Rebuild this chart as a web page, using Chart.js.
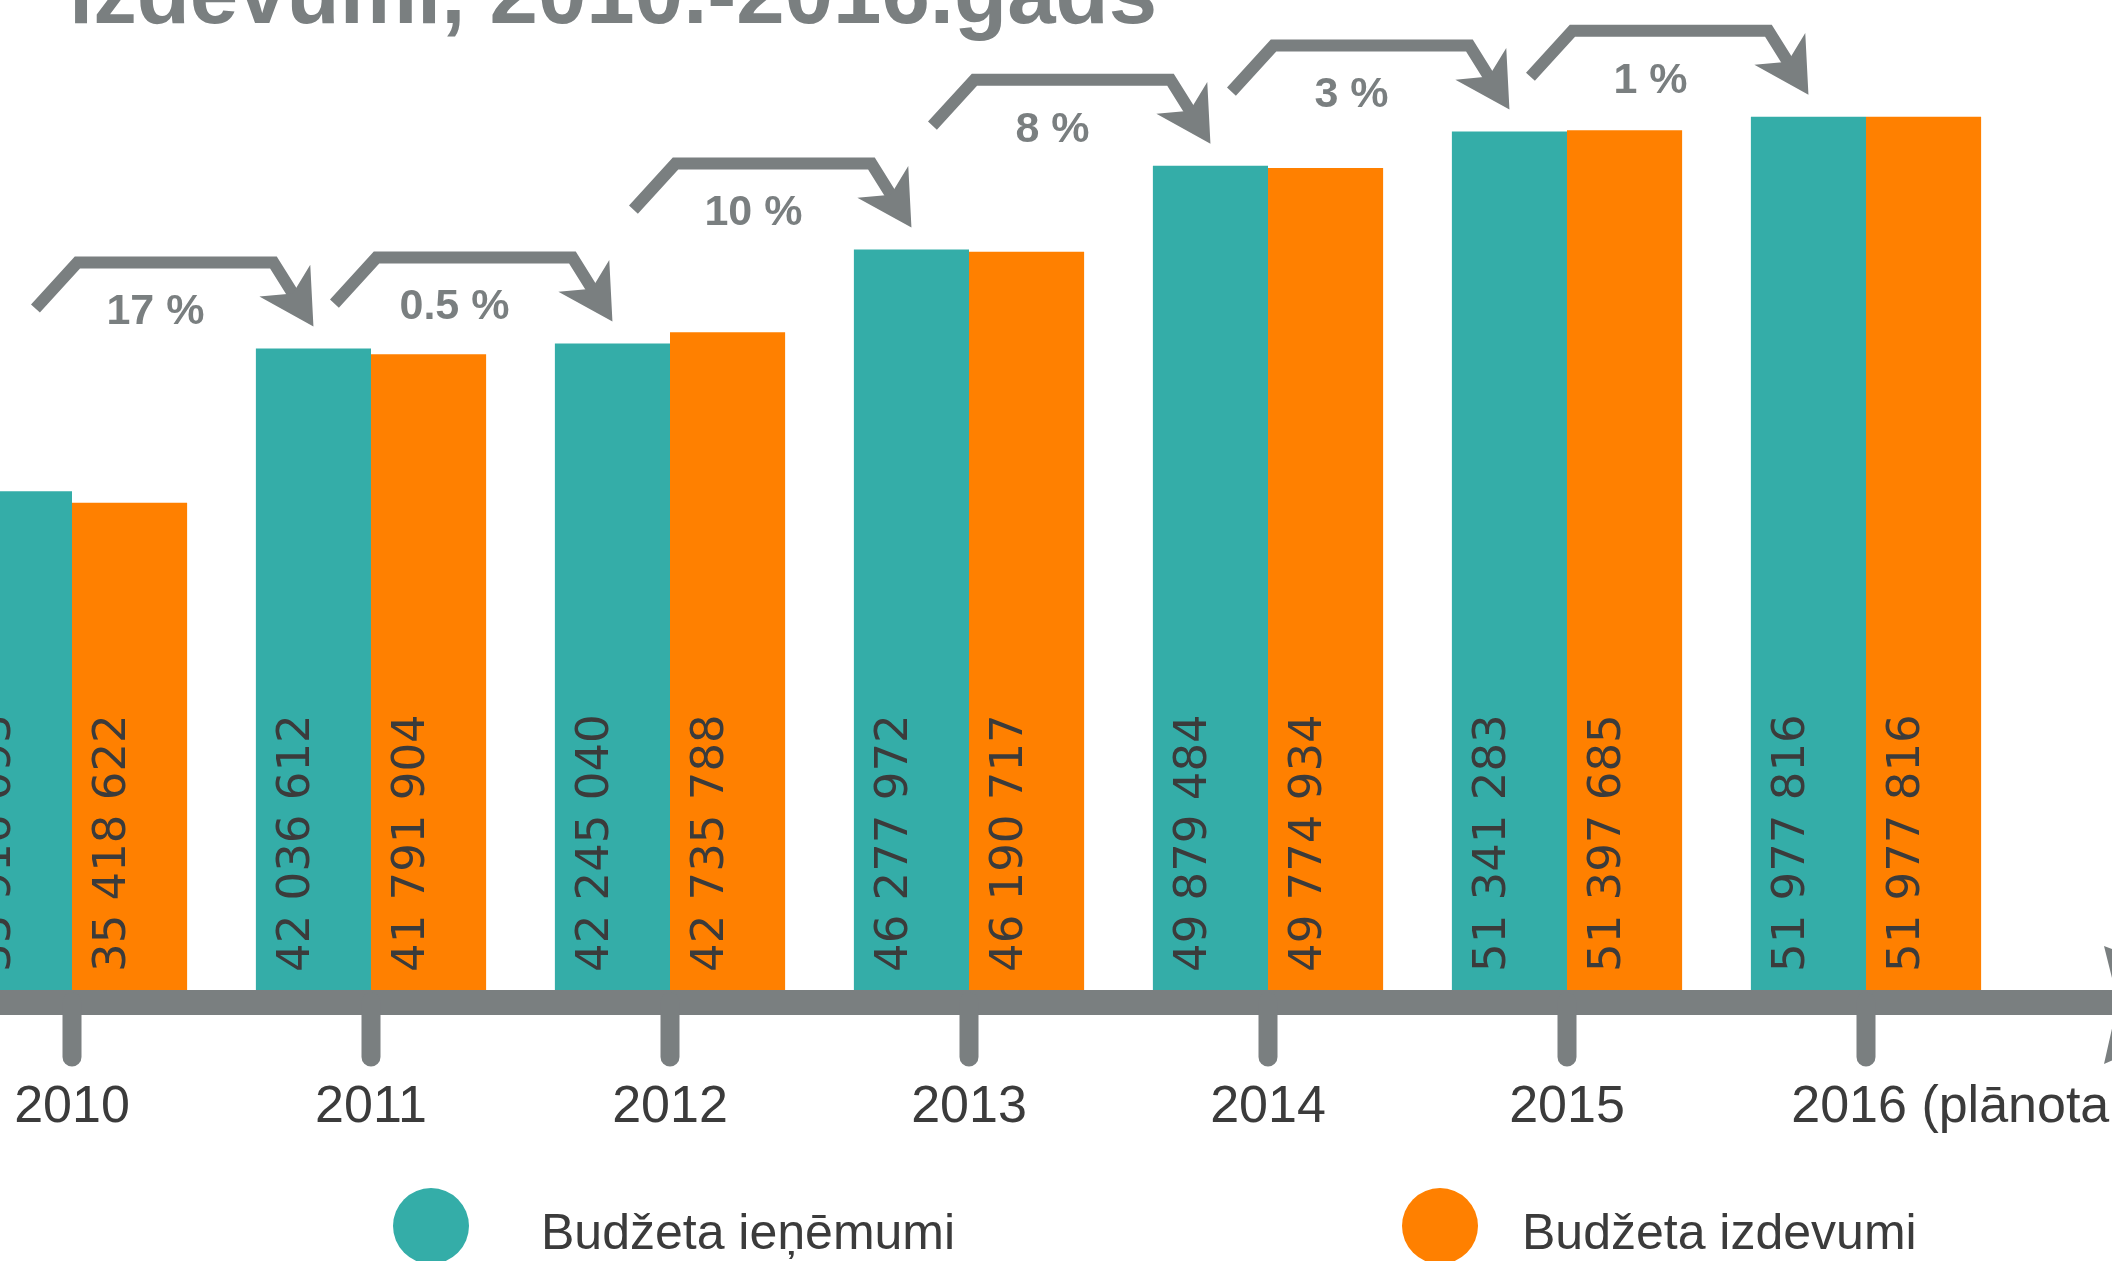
<!DOCTYPE html>
<html>
<head>
<meta charset="utf-8">
<script src="https://cdn.jsdelivr.net/npm/chart.js@4.4.1/dist/chart.umd.min.js"></script>
<style>
  html, body { margin: 0; padding: 0; background: #fff; overflow: hidden; }
  #wrap { width: 2112px; height: 1261px; position: relative; }
</style>
</head>
<body>
<div id="wrap"><canvas id="budzets"></canvas></div>
<script>
const gadi = ["2010", "2011", "2012", "2013", "2014", "2015", "2016 (plānotais)"];
const ienemumi = [35916093, 42036612, 42245040, 46277972, 49879484, 51341283, 51977816];
const izdevumi = [35418622, 41791904, 42735788, 46190717, 49774934, 51397685, 51977816];
const pieaugums = ["17 %", "0.5 %", "10 %", "8 %", "3 %", "1 %"];
const virsraksts = "izdevumi, 2010.-2016.gads";
const legendasX = [431, 1440];

const yMin = 14000000;
const yMax = 56000000;

const pelekais = "#7a7f80";
const teksts = "#3b3b3b";

function fmt(v) {
  return String(v).replace(/\B(?=(\d{3})+(?!\d))/g, " ");
}

const zimejumi = {
  id: "zimejumi",
  beforeDraw(chart) {
    const ctx = chart.ctx;
    ctx.save();
    ctx.fillStyle = pelekais;
    ctx.font = "bold 87px 'Liberation Sans'";
    ctx.textAlign = "left";
    ctx.textBaseline = "alphabetic";
    ctx.fillText(virsraksts, 69, 23);
    ctx.restore();
  },
  afterDatasetsDraw(chart) {
    const ctx = chart.ctx;
    const xs = chart.scales.x, ys = chart.scales.y;
    const y0 = ys.getPixelForValue(ys.min);
    const solis = xs.getPixelForValue(1) - xs.getPixelForValue(0);

    // skaitli stabinos
    ctx.save();
    ctx.font = "45px 'DejaVu Sans'";
    ctx.fillStyle = teksts;
    ctx.textAlign = "left";
    ctx.textBaseline = "middle";
    chart.data.datasets.forEach((ds, di) => {
      chart.getDatasetMeta(di).data.forEach((bar, i) => {
        ctx.save();
        ctx.translate(bar.x - 16, y0 - 30);
        ctx.rotate(-Math.PI / 2);
        ctx.fillText(fmt(ds.data[i]), 0, 0);
        ctx.restore();
      });
    });
    ctx.restore();

    // ass
    ctx.save();
    ctx.fillStyle = pelekais;
    ctx.fillRect(0, y0 - 12, chart.width, 25);
    ctx.beginPath();
    ctx.moveTo(2104, y0 - 56);
    ctx.lineTo(2250, y0);
    ctx.lineTo(2104, y0 + 62);
    ctx.lineTo(2118, y0);
    ctx.closePath();
    ctx.fill();

    ctx.strokeStyle = pelekais;
    ctx.lineWidth = 19;
    ctx.lineCap = "round";
    gadi.forEach((g, i) => {
      const px = xs.getPixelForValue(i);
      ctx.beginPath();
      ctx.moveTo(px, y0);
      ctx.lineTo(px, y0 + 55);
      ctx.stroke();
    });

    ctx.fillStyle = teksts;
    ctx.font = "52px 'Liberation Sans'";
    ctx.textBaseline = "alphabetic";
    gadi.forEach((g, i) => {
      const px = xs.getPixelForValue(i);
      if (ctx.measureText(g).width > solis * 0.9) {
        ctx.textAlign = "left";
        ctx.fillText(g, px - solis * 0.25, 1122);
      } else {
        ctx.textAlign = "center";
        ctx.fillText(g, px, 1122);
      }
    });
    ctx.restore();

    // pieauguma bultas
    const meta = chart.getDatasetMeta(0);
    ctx.save();
    ctx.strokeStyle = pelekais;
    ctx.fillStyle = pelekais;
    ctx.lineWidth = 12;
    ctx.lineJoin = "miter";
    pieaugums.forEach((p, k) => {
      const bar = meta.data[k + 1];
      const tx = bar.x, ty = bar.y - 22;
      const hx = tx - 40, hy = ty - 64;
      const cx = tx - 236, cy = hy;
      const sx = cx - 42, sy = cy + 46;
      const dl = Math.hypot(tx - hx, ty - hy);
      const dx = (tx - hx) / dl, dy = (ty - hy) / dl;
      const L = 54, W = 30;
      const bx = tx - dx * L, by = ty - dy * L;
      const nx = -dy, ny = dx;

      ctx.beginPath();
      ctx.moveTo(sx, sy);
      ctx.lineTo(cx, cy);
      ctx.lineTo(hx, hy);
      ctx.lineTo(tx - dx * L * 0.6, ty - dy * L * 0.6);
      ctx.stroke();

      ctx.beginPath();
      ctx.moveTo(tx, ty);
      ctx.lineTo(bx + nx * W, by + ny * W);
      ctx.lineTo(tx - dx * L * 0.72, ty - dy * L * 0.72);
      ctx.lineTo(bx - nx * W, by - ny * W);
      ctx.closePath();
      ctx.fill();

      ctx.font = "bold 43px 'Liberation Sans'";
      ctx.textAlign = "center";
      ctx.textBaseline = "middle";
      ctx.fillText(p, cx + 78, cy + 50);
    });
    ctx.restore();

    // legenda
    ctx.save();
    chart.data.datasets.forEach((ds, di) => {
      const lx = legendasX[di];
      ctx.fillStyle = ds.backgroundColor;
      ctx.beginPath();
      ctx.arc(lx, 1226, 38, 0, Math.PI * 2);
      ctx.fill();
      ctx.fillStyle = teksts;
      ctx.font = "50px 'Liberation Sans'";
      ctx.textAlign = "left";
      ctx.textBaseline = "alphabetic";
      ctx.fillText(ds.label, lx + (di === 0 ? 110 : 82), 1249);
    });
    ctx.restore();
  }
};

new Chart(document.getElementById("budzets"), {
  type: "bar",
  data: {
    labels: gadi,
    datasets: [
      { label: "Budžeta ieņēmumi", data: ienemumi, backgroundColor: "#34ada8", base: yMin, clip: false },
      { label: "Budžeta izdevumi", data: izdevumi, backgroundColor: "#ff8000", base: yMin, clip: false }
    ]
  },
  options: {
    responsive: true,
    maintainAspectRatio: false,
    animation: false,
    layout: { padding: { left: 72, right: 246, top: 23, bottom: 259 } },
    datasets: { bar: { categoryPercentage: 0.77, barPercentage: 1 } },
    scales: {
      x: { display: false, offset: false },
      y: { display: false, min: yMin, max: yMax }
    },
    plugins: {
      legend: { display: false },
      tooltip: { enabled: false }
    }
  },
  plugins: [zimejumi]
});
</script>
</body>
</html>
